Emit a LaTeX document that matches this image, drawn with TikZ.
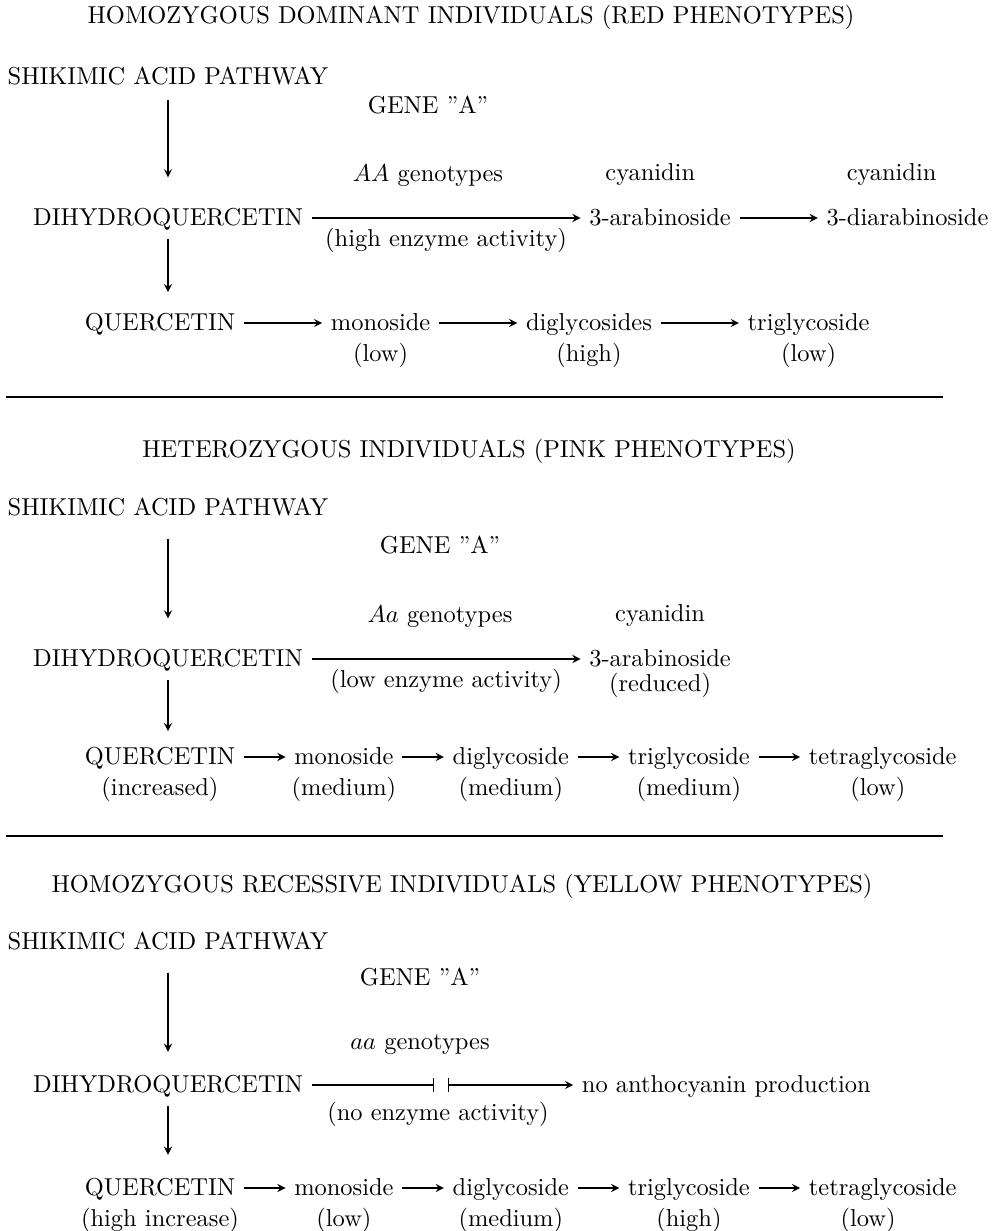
\documentclass[tikz,border=0pt]{standalone}
\usepackage{tikz}
\usetikzlibrary{arrows,positioning}

\begin{document}
\begin{tikzpicture}[x=0.409pt,y=-0.409pt,node distance=32pt,auto,>=stealth,line width=0.5pt,
    every node/.style={text height=8pt,text depth=2pt}]
    \useasboundingbox (0,0) rectangle (998,1231);

    % red phenotypes
    \node (ttl1) at (471,16) {HOMOZYGOUS DOMINANT INDIVIDUALS (RED PHENOTYPES)};
    \node (shk1) at (168,77) {SHIKIMIC ACID PATHWAY};
    \node (dhq1) at (168,218) {DIHYDROQUERCETIN};
    \node (gt1) at (428,174) {$AA$ genotypes};
    \node (gen1) [above=10.5pt of gt1] {GENE ”A”};
    \node (ara1) [right=110pt of dhq1] {3-arabinoside};
    \node (dar1) [right=of ara1] {3-diarabinoside};
    \node (cya1) [above=1.3pt of ara1,xshift=-4pt] {cyanidin};
    \node (cya1b) [above=1.3pt of dar1,xshift=-6.5pt] {cyanidin};
    \node[anchor=west] (que1) at (76,323) {QUERCETIN};
    \node (mon1) [right=of que1] {monoside};
    \node (dig1) [right=of mon1] {diglycosides};
    \node (tri1) [right=of dig1] {triglycoside};
    \node (low1) [below=-4.5pt of mon1] {(low)};
    \node (hig1) [below=-4.5pt of dig1] {(high)};
    \node (low1b) [below=-4.5pt of tri1] {(low)};
    \path[->]
        (shk1) edge[shorten <=1pt,shorten >=8pt] (dhq1)
        (dhq1) edge node[below] (hea1) {(high enzyme activity)} (ara1)
        (ara1) edge (dar1)
        (que1) edge (mon1)
        (mon1) edge (dig1)
        (dig1) edge (tri1);
    \draw[->,shorten >=4pt] (dhq1) -- (dhq1 |- que1.north);
    \draw[line width=0.8pt] (6,397) -- (943,397);

    % pink phenotypes
    \node (ttl2) at (469,450) {HETEROZYGOUS INDIVIDUALS (PINK PHENOTYPES)};
    \node (shk2) at (168,508) {SHIKIMIC ACID PATHWAY};
    \node (dhq2) at (168,659) {DIHYDROQUERCETIN};
    \node (gt2) at (440,615) {$Aa$ genotypes};
    \node (gen2) [above=11pt of gt2] {GENE ”A”};
    \node (ara2) [right=110pt of dhq2] {3-arabinoside};
    \node (cya2) [above=1.3pt of ara2] {cyanidin};
    \node (red2) [below=-7pt of ara2] {(reduced)};
    \node[anchor=west] (que2) at (76,757) {QUERCETIN};
    \node (mon2) [right=17pt of que2] {monoside};
    \node (dig2) [right=17pt of mon2] {diglycoside};
    \node (tri2) [right=17pt of dig2] {triglycoside};
    \node (tet2) [right=17pt of tri2] {tetraglycoside};
    \node (inc2) [below=-4.5pt of que2] {(increased)};
    \node (med2a) [below=-4.5pt of mon2] {(medium)};
    \node (med2b) [below=-4.5pt of dig2] {(medium)};
    \node (med2c) [below=-4.5pt of tri2] {(medium)};
    \node (low2) [below=-4.5pt of tet2,xshift=-2pt] {(low)};
    \path[->]
        (shk2) edge[shorten <=4pt,shorten >=8pt] (dhq2)
        (dhq2) edge node[below] (lea2) {(low enzyme activity)} (ara2)
        (que2) edge (mon2)
        (mon2) edge (dig2)
        (dig2) edge (tri2)
        (tri2) edge (tet2);
    \draw[->,shorten >=2pt] (dhq2) -- (dhq2 |- que2.north);
    \draw[line width=0.8pt] (6,836) -- (943,836);

    % yellow phenotypes
    \node (ttl3) at (462,885) {HOMOZYGOUS RECESSIVE INDIVIDUALS (YELLOW PHENOTYPES)};
    \node (shk3) at (168,942) {SHIKIMIC ACID PATHWAY};
    \node (dhq3) at (168,1085) {DIHYDROQUERCETIN};
    \node (gt3) at (420,1042) {$aa$ genotypes};
    \node (gen3) [above=9pt of gt3] {GENE ”A”};
    \node (noa3) [right=107pt of dhq3] {no anthocyanin production};
    \node (nea3) at (438,1113) {(no enzyme activity)};
    \coordinate (blk3a) at (434,1085);
    \coordinate (blk3b) at (448,1085);
    \node[anchor=west] (que3) at (76,1188) {QUERCETIN};
    \node (mon3) [right=17pt of que3] {monoside};
    \node (dig3) [right=17pt of mon3] {diglycoside};
    \node (tri3) [right=17pt of dig3] {triglycoside};
    \node (tet3) [right=17pt of tri3] {tetraglycoside};
    \node (hin3) [below=-4.5pt of que3] {(high increase)};
    \node (low3a) [below=-4.5pt of mon3] {(low)};
    \node (med3) [below=-4.5pt of dig3] {(medium)};
    \node (hig3) [below=-4.5pt of tri3] {(high)};
    \node (low3b) [below=-4.5pt of tet3,xshift=-6pt] {(low)};
    \draw[-|] (dhq3) -- (blk3a);
    \draw[|->] (blk3b) -- (noa3);
    \path[->]
        (shk3) edge[shorten <=4pt,shorten >=5pt] (dhq3)
        (que3) edge (mon3)
        (mon3) edge (dig3)
        (dig3) edge (tri3)
        (tri3) edge (tet3);
    \draw[->,shorten >=5pt] (dhq3) -- (dhq3 |- que3.north);
\end{tikzpicture}
\end{document}
